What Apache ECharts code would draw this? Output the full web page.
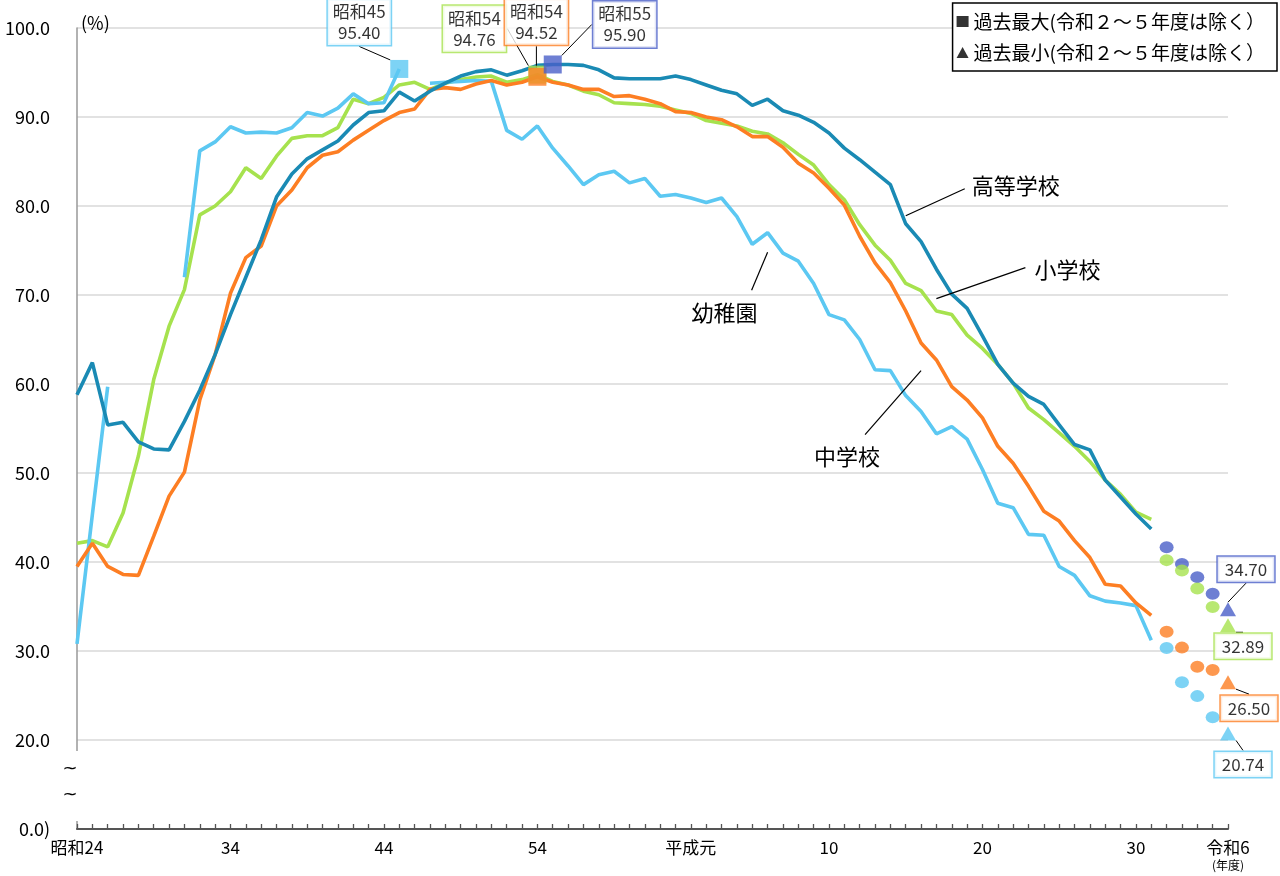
<!DOCTYPE html>
<html><head><meta charset="utf-8">
<script src="https://cdn.jsdelivr.net/npm/echarts@6/dist/echarts.min.js"></script>
<style>html,body{margin:0;padding:0;background:#fff}#c{width:1280px;height:876px}</style>
</head><body><div id="c"></div>
<script>
// ---- categories (年度) ----
const years = [1949,1950,1951,1952,1953,1954,1955,1956,1957,1958,1959,1960,1961,1962,1963,1964,1965,1966,1967,1968,1969,1970,1971,1972,1973,1974,1975,1976,1977,1978,1979,1980,1981,1982,1983,1984,1985,1986,1987,1988,1989,1990,1991,1992,1993,1994,1995,1996,1997,1998,1999,2000,2001,2002,2003,2004,2005,2006,2007,2008,2009,2010,2011,2012,2013,2014,2015,2016,2017,2018,2019,2020,2021,2022,2023,2024];
const tickLabels = {1949:'昭和24',1959:'34',1969:'44',1979:'54',1989:'平成元',1998:'10',2008:'20',2018:'30',2024:'令和6'};
const yTickLabels = {10:'0.0)'};

// ---- series values 昭和24(1949) 〜 令和元(2019) ----
const highSchool = [58.8,62.4,55.4,55.7,53.5,52.7,52.6,55.8,59.3,63.3,67.8,72.0,76.2,81.0,83.6,85.3,86.3,87.3,89.1,90.5,90.7,92.8,91.8,92.9,93.8,94.6,95.1,95.3,94.7,95.2,95.8,95.90,95.9,95.8,95.3,94.4,94.3,94.3,94.3,94.6,94.2,93.6,93.0,92.6,91.3,92.0,90.7,90.2,89.4,88.2,86.5,85.2,83.8,82.4,78.0,76.0,72.9,70.1,68.5,65.4,62.2,60.1,58.6,57.7,55.4,53.2,52.6,49.2,47.3,45.4,43.7];
const elementary = [42.1,42.4,41.7,45.5,51.9,60.5,66.5,70.6,79.0,80.0,81.6,84.3,83.1,85.6,87.6,87.9,87.9,88.8,92.0,91.5,92.2,93.6,93.9,93.1,93.8,94.2,94.5,94.6,93.9,94.2,94.76,94.0,93.6,92.9,92.5,91.6,91.5,91.4,91.2,90.8,90.4,89.6,89.3,89.0,88.4,88.1,87.1,85.8,84.6,82.4,80.7,77.9,75.6,73.9,71.3,70.5,68.2,67.8,65.5,64.0,62.2,60.1,57.3,56.0,54.5,53.0,51.3,49.2,47.6,45.6,44.8];
const juniorHigh = [39.5,42.1,39.5,38.6,38.5,42.9,47.4,50.1,58.2,63.3,70.2,74.2,75.5,80.0,81.8,84.3,85.7,86.1,87.4,88.5,89.6,90.5,90.9,93.1,93.3,93.1,93.7,94.1,93.6,93.9,94.52,93.9,93.6,93.1,93.1,92.3,92.4,92.0,91.5,90.6,90.5,90.0,89.7,88.9,87.8,87.8,86.6,84.8,83.7,82.0,80.1,76.6,73.6,71.4,68.2,64.6,62.7,59.7,58.2,56.2,53.0,51.1,48.5,45.7,44.6,42.4,40.5,37.5,37.3,35.4,34.0];
const kindergarten = [30.8,45.3,59.7,null,null,null,null,72.0,86.2,87.2,88.9,88.2,88.3,88.2,88.8,90.5,90.1,91.0,92.6,91.5,91.6,95.40,null,93.8,93.9,94.0,94.1,94.0,88.5,87.5,89.0,86.5,84.5,82.4,83.5,83.9,82.6,83.1,81.1,81.3,80.9,80.4,80.9,78.8,75.7,77.0,74.7,73.8,71.3,67.8,67.2,65.0,61.6,61.5,58.7,56.9,54.4,55.2,53.8,50.4,46.6,46.1,43.1,43.0,39.5,38.5,36.2,35.6,35.4,35.1,31.2];

// ---- 令和2〜5年度 (dots) ----
const recentYears = [2020,2021,2022,2023];
const highSchoolRecent = [41.66,39.77,38.30,36.42];
const elementaryRecent = [40.21,39.04,37.02,34.95];
const juniorHighRecent = [32.16,30.38,28.24,27.86];
const kindergartenRecent = [30.34,26.49,24.93,22.55];

// ---- 過去最大 / 過去最小 ----
const maxSchools = ['幼稚園','小学校','中学校','高等学校'];
const maxYears = [1970,1979,1979,1980];
const maxEra = ['昭和45','昭和54','昭和54','昭和55'];
const maxValues = [95.40,94.76,94.52,95.90];
const minSchools = ['高等学校','小学校','中学校','幼稚園'];
const minYears = [2024,2024,2024,2024];
const minValues = [34.70,32.89,26.50,20.74];

const LEG_MAX = '過去最大(令和２～５年度は除く）';
const LEG_MIN = '過去最小(令和２～５年度は除く）';

// ---- styles ----
const FONT = '"Noto Sans CJK JP","Noto Sans",sans-serif';
const lineColor = {'高等学校':'#1a8ab4','小学校':'#a6e24e','中学校':'#fd7e23','幼稚園':'#5cc8f2'};
const markColor = {'高等学校':'#4a5fc8','小学校':'#a6e24e','中学校':'#fd7e23','幼稚園':'#5cc8f2'};
const maxLabelShift = [{dx:-40,dy:-47},{dx:-63,dy:-46},{dx:-1,dy:-55},{dx:72,dy:-40}];
const minLabelShift = [{dx:18,dy:-40},{dx:15,dy:21},{dx:21,dy:26},{dx:15,dy:31}];

const idx = y => years.indexOf(y);

function lineSeries(name, data, z) {
  return {name, type:'line', data, z, symbol:'none', connectNulls:false,
    lineStyle:{color:lineColor[name], width:3.6}, itemStyle:{color:lineColor[name]}, silent:true};
}
function dotSeries(name, vals) {
  return {name:name+'(令和2〜5)', type:'scatter', z:5, symbol:'circle', symbolSize:[14,12],
    itemStyle:{color:markColor[name]}, data: recentYears.map((y,i)=>[idx(y), vals[i]]), silent:true};
}

const labelBase = {show:true, position:'inside', color:'#000', fontFamily:FONT, fontSize:17, lineHeight:21,
  backgroundColor:'#fff', borderWidth:1.5, padding:[2,5]};

const option = {
  animation:false,
  backgroundColor:'#fff',
  textStyle:{fontFamily:FONT},
  grid:{left:77, right:52, top:28, bottom:47, containLabel:false},
  legend:{
    data:[{name:LEG_MAX, icon:'rect'},{name:LEG_MIN, icon:'triangle'}],
    orient:'vertical', right:3, top:3, itemWidth:12, itemHeight:11, itemGap:12,
    padding:[9,12,9,4], borderColor:'#000', borderWidth:1.5, backgroundColor:'#fff',
    textStyle:{fontSize:19, color:'#000', fontFamily:FONT}, selectedMode:false
  },
  xAxis:{
    type:'category', data:years, boundaryGap:false,
    axisLine:{lineStyle:{color:'#555', width:2}},
    axisTick:{show:true, inside:true, length:5, interval:0, lineStyle:{color:'#555', width:1.3}},
    axisLabel:{interval:0, margin:9, color:'#000',
      formatter:(v)=>{ const t = tickLabels[v]; if(!t) return ''; return Number(v)===2024 ? '{a|'+t+'}\n{b|(年度)}' : '{a|'+t+'}'; },
      rich:{a:{fontSize:17, fontFamily:FONT, color:'#000', lineHeight:20}, b:{fontSize:12, fontFamily:FONT, color:'#000', lineHeight:14}}
    },
    splitLine:{show:false}
  },
  yAxis:{
    type:'value', min:10, max:100, interval:10,
    name:'(%)', nameLocation:'end', nameGap:4,
    nameTextStyle:{align:'left', verticalAlign:'bottom', fontSize:18, color:'#000', padding:[0,0,-8,4], fontFamily:FONT},
    axisLine:{show:true, lineStyle:{color:'#999', width:1.5}},
    axisTick:{show:false},
    axisLabel:{margin:27, fontSize:18, color:'#000', fontFamily:FONT,
      formatter:(v)=> yTickLabels[v] !== undefined ? yTickLabels[v] : v.toFixed(1)},
    splitLine:{lineStyle:{color:'#d9d9d9', width:1.5}}
  },
  series:[
    lineSeries('小学校', elementary, 2),
    lineSeries('幼稚園', kindergarten, 3),
    lineSeries('中学校', juniorHigh, 4),
    lineSeries('高等学校', highSchool, 5),
    dotSeries('高等学校', highSchoolRecent),
    dotSeries('小学校', elementaryRecent),
    dotSeries('中学校', juniorHighRecent),
    dotSeries('幼稚園', kindergartenRecent),
    {
      name:LEG_MAX, type:'scatter', z:8, symbol:'rect', symbolSize:18,
      itemStyle:{color:'#000'},
      label:Object.assign({}, labelBase, {formatter:p=>p.name+'\n'+p.value[1].toFixed(2)}),
      labelLine:{show:true, lineStyle:{color:'#000', width:1}},
      labelLayout:p=>maxLabelShift[p.dataIndex],
      data: maxSchools.map((s,i)=>({name:maxEra[i], value:[idx(maxYears[i]), maxValues[i]],
        itemStyle:{color:markColor[s]}, label:{borderColor:markColor[s]}}))
    },
    {
      name:LEG_MIN, type:'scatter', z:8, symbol:'triangle', symbolSize:[16,14],
      itemStyle:{color:'#000'},
      label:Object.assign({}, labelBase, {formatter:p=>p.value[1].toFixed(2), padding:[2,7]}),
      labelLine:{show:true, lineStyle:{color:'#000', width:1}},
      labelLayout:p=>minLabelShift[p.dataIndex],
      data: minSchools.map((s,i)=>({value:[idx(minYears[i]), minValues[i]],
        itemStyle:{color:markColor[s]}, label:{borderColor:markColor[s]}}))
    }
  ]
};

const chart = echarts.init(document.getElementById('c'), null, {renderer:'canvas'});
chart.setOption(option);

// ---- annotations: series names with leader lines, axis break ----
const seriesNotes = [
  {text:'高等学校', anchor:[53.56,78.9], end:[59,-27], pos:[66,-30], align:'left'},
  {text:'小学校', anchor:[55.58,69.6], end:[89,-31], pos:[98,-29], align:'left'},
  {text:'中学校', anchor:[54.86,61.5], end:[-56,64], pos:[-74,86], align:'center'},
  {text:'幼稚園', anchor:[45.02,74.8], end:[-16,38], pos:[-43,60], align:'center'}
];
const px = (x,y)=>chart.convertToPixel({gridIndex:0},[x,y]);
const g = [];
seriesNotes.forEach(n=>{
  const a = px(n.anchor[0], n.anchor[1]);
  g.push({type:'line', z:50, shape:{x1:a[0], y1:a[1], x2:a[0]+n.end[0], y2:a[1]+n.end[1]}, style:{stroke:'#000', lineWidth:1.2}});
  g.push({type:'text', z:50, x:a[0]+n.pos[0], y:a[1]+n.pos[1],
    style:{text:n.text, fill:'#000', font:'22px '+FONT, textAlign:n.align, textVerticalAlign:'middle'}});
});
const p20 = px(0,20), p10 = px(0,10);
g.push({type:'rect', z:60, shape:{x:p20[0]-3, y:p20[1]+11, width:6, height:(p10[1]-8)-(p20[1]+11)}, style:{fill:'#fff'}});
g.push({type:'text', z:60, x:p20[0]-7, y:p20[1]+29, style:{text:'~', fill:'#000', font:'18px "DejaVu Sans"', textAlign:'center', textVerticalAlign:'middle'}});
g.push({type:'text', z:60, x:p20[0]-7, y:p20[1]+55, style:{text:'~', fill:'#000', font:'18px "DejaVu Sans"', textAlign:'center', textVerticalAlign:'middle'}});
chart.setOption({graphic:g});
</script>
</body></html>
